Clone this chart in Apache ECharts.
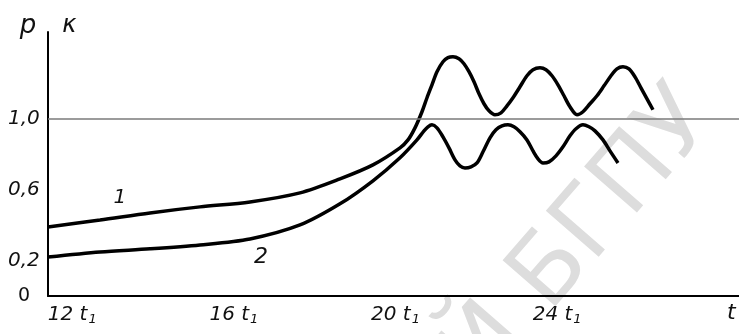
<!DOCTYPE html>
<html>
<head>
<meta charset="utf-8">
<script src="https://cdn.jsdelivr.net/npm/echarts@6/dist/echarts.min.js"></script>
<style>
html,body{margin:0;padding:0;background:#fff;}
#chart{width:739px;height:334px;}
</style>
</head>
<body>
<div id="chart"></div>
<script>
// Curve 1 (time in units of t1, value)
var t1Values = [11.400, 12.687, 13.924, 15.161, 16.399, 17.636, 18.626, 19.442, 20.111, 20.309, 20.482, 20.655, 20.779, 20.902, 21.026, 21.175, 21.298, 21.422, 21.571, 21.694, 21.818, 21.942, 22.066, 22.189, 22.313, 22.461, 22.610, 22.758, 22.907, 23.080, 23.253, 23.402, 23.575, 23.724, 23.872, 24.020, 24.169, 24.317, 24.491, 24.639, 24.812, 24.986, 25.159, 25.332, 25.480, 25.629, 25.777, 25.926, 26.074, 26.223, 26.371];
var p1Values = [0.390, 0.429, 0.469, 0.503, 0.531, 0.582, 0.661, 0.740, 0.836, 0.881, 0.949, 1.040, 1.119, 1.192, 1.266, 1.322, 1.345, 1.350, 1.339, 1.311, 1.266, 1.209, 1.141, 1.085, 1.045, 1.023, 1.034, 1.073, 1.119, 1.181, 1.243, 1.277, 1.288, 1.277, 1.243, 1.192, 1.130, 1.068, 1.023, 1.040, 1.085, 1.130, 1.186, 1.243, 1.282, 1.294, 1.282, 1.237, 1.175, 1.113, 1.051];
// Curve 2
var t2Values = [11.400, 12.687, 13.924, 15.161, 16.399, 17.636, 18.626, 19.442, 20.111, 20.531, 20.705, 20.803, 20.902, 21.026, 21.175, 21.323, 21.472, 21.595, 21.719, 21.868, 22.016, 22.165, 22.338, 22.486, 22.635, 22.783, 22.932, 23.080, 23.253, 23.402, 23.526, 23.649, 23.798, 23.971, 24.144, 24.317, 24.466, 24.639, 24.788, 24.936, 25.134, 25.307, 25.505];
var p2Values = [0.220, 0.249, 0.266, 0.288, 0.322, 0.401, 0.520, 0.650, 0.780, 0.881, 0.932, 0.955, 0.966, 0.949, 0.898, 0.836, 0.768, 0.734, 0.723, 0.729, 0.751, 0.814, 0.893, 0.938, 0.960, 0.966, 0.955, 0.927, 0.881, 0.819, 0.774, 0.751, 0.757, 0.791, 0.842, 0.904, 0.944, 0.966, 0.955, 0.932, 0.881, 0.819, 0.751];
// Axis ticks
var xTicks = [12, 16, 20, 24];
var xTickLabels = ['12', '16', '20', '24'];
var yTicks = [0, 0.2, 0.6, 1.0];
var yTickLabels = ['0', '0,2', '0,6', '1,0'];
var refLevel = 1.0;
// Curve labels [t, value, text]
var curveLabel1 = [13.18, 0.554, '1'];
var curveLabel2 = [16.67, 0.220, '2'];

function pairs(xs, ys) { return xs.map(function (x, i) { return [x, ys[i]]; }); }

var FONT = '"DejaVu Sans", sans-serif';
var chart = echarts.init(document.getElementById('chart'), null, {renderer: 'canvas'});
chart.setOption({
  animation: false,
  backgroundColor: '#ffffff',
  graphic: [{
    type: 'text', z: -10, silent: true,
    x: 734, y: 136, rotation: 0.855,
    style: {text: 'РЕПОЗИТОРИЙ БГПУ', font: '96px ' + FONT, fill: '#dddddd', align: 'right', verticalAlign: 'bottom'}
  }],
  grid: {left: 48, right: 0, top: 32, bottom: 38, containLabel: false},
  xAxis: {
    type: 'value', min: 11.4, max: 28.5,
    name: 't', nameLocation: 'end', nameGap: -12,
    nameTextStyle: {fontFamily: FONT, fontStyle: 'italic', fontSize: 22, color: '#111', verticalAlign: 'top', padding: [6, 0, 0, 0]},
    axisLine: {lineStyle: {color: '#000', width: 2}},
    axisTick: {show: false},
    splitLine: {show: false},
    axisLabel: {
      customValues: xTicks, margin: 7, color: '#111',
      formatter: function (v) {
        var i = xTicks.indexOf(v);
        return '{n|' + xTickLabels[i] + '}{t| t}{s|1}';
      },
      rich: {
        n: {fontFamily: FONT, fontStyle: 'italic', fontSize: 20, color: '#111'},
        t: {fontFamily: FONT, fontStyle: 'italic', fontSize: 20, color: '#111'},
        s: {fontFamily: FONT, fontStyle: 'italic', fontSize: 13, color: '#111', padding: [10, 0, 0, 1]}
      }
    }
  },
  yAxis: {
    type: 'value', min: 0, max: 1.49,
    name: '{p|p}{g|}{k|κ}', nameLocation: 'end', nameGap: -7,
    nameTextStyle: {
      rich: {
        p: {fontFamily: FONT, fontStyle: 'italic', fontSize: 26, color: '#111'},
        g: {width: 26},
        k: {fontFamily: FONT, fontStyle: 'italic', fontSize: 24, color: '#111'}
      }
    },
    axisLine: {show: true, lineStyle: {color: '#000', width: 2}},
    axisTick: {show: false},
    splitLine: {show: false},
    axisLabel: {
      customValues: yTicks, margin: 40, align: 'left', color: '#111',
      formatter: function (v) {
        var i = yTicks.indexOf(v);
        return v === 0 ? '{z|' + yTickLabels[i] + '}' : '{i|' + yTickLabels[i] + '}';
      },
      rich: {
        i: {fontFamily: FONT, fontStyle: 'italic', fontSize: 20, color: '#111'},
        z: {fontFamily: FONT, fontStyle: 'normal', fontSize: 19, color: '#111', padding: [0, 0, 0, 10]}
      }
    }
  },
  series: [
    {
      type: 'line', data: pairs(t1Values, p1Values), smooth: 0.3, symbol: 'none',
      lineStyle: {color: '#000', width: 3.5},
      markLine: {
        silent: true, symbol: 'none', label: {show: false},
        lineStyle: {color: '#7a7a7a', width: 1.5, type: 'solid'},
        data: [{yAxis: refLevel}]
      },
      markPoint: {
        symbol: 'circle', symbolSize: 0,
        label: {show: true, position: 'inside', fontFamily: FONT, fontStyle: 'italic', fontSize: 20, color: '#111', formatter: curveLabel1[2]},
        data: [{coord: [curveLabel1[0], curveLabel1[1]]}]
      }
    },
    {
      type: 'line', data: pairs(t2Values, p2Values), smooth: 0.3, symbol: 'none',
      lineStyle: {color: '#000', width: 3.5},
      markPoint: {
        symbol: 'circle', symbolSize: 0,
        label: {show: true, position: 'inside', fontFamily: FONT, fontStyle: 'italic', fontSize: 22, color: '#111', formatter: curveLabel2[2]},
        data: [{coord: [curveLabel2[0], curveLabel2[1]]}]
      }
    }
  ]
});
</script>
</body>
</html>
